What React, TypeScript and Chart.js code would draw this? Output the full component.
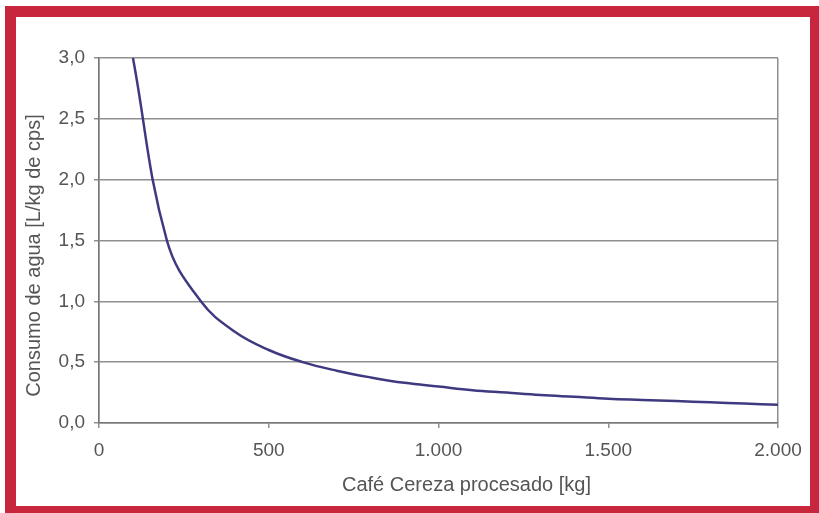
import React, { useEffect, useRef } from "react";
import { Chart, registerables } from "chart.js";

Chart.register(...registerables);

const processedKg = [100, 200, 300, 400, 500, 600, 700, 800, 900, 1000, 1100, 1200, 1300, 1400, 1500, 1600, 1700, 1800, 1900, 2000];
const waterUse = [3.0, 1.5, 1.0, 0.75, 0.6, 0.5, 0.43, 0.375, 0.33, 0.3, 0.27, 0.25, 0.23, 0.215, 0.2, 0.19, 0.18, 0.17, 0.16, 0.15];
const xTickValues = [0, 500, 1000, 1500, 2000];
const yTickValues = [0, 0.5, 1.0, 1.5, 2.0, 2.5, 3.0];
const xTitle = "Café Cereza procesado [kg]";
const yTitle = "Consumo de agua [L/kg de cps]";

const FONT = "'Liberation Sans', Arial, sans-serif";
const TEXT = "#555";
const GRID = "#8f8f8f";

function fmtThousands(v: number): string {
  const s = Math.round(v).toString();
  return s.replace(/\B(?=(\d{3})+(?!\d))/g, ".");
}

const axisTitles = {
  id: "axisTitles",
  afterDraw(chart: any) {
    const ctx = chart.ctx;
    const area = chart.chartArea;
    ctx.save();
    ctx.fillStyle = TEXT;
    ctx.font = `20px ${FONT}`;
    ctx.textAlign = "center";
    ctx.textBaseline = "alphabetic";
    ctx.fillText(xTitle, (area.left + area.right) / 2 + 28, area.bottom + 68);
    ctx.translate(40, (area.top + area.bottom) / 2 + 15);
    ctx.rotate(-Math.PI / 2);
    ctx.fillText(yTitle, 0, 0);
    ctx.restore();
  },
};

export default function App() {
  const ref = useRef<HTMLCanvasElement | null>(null);

  useEffect(() => {
    document.body.style.margin = "0";
    document.body.style.overflow = "hidden";
    const canvas = ref.current;
    if (!canvas) return;
    const chart = new Chart(canvas, {
      type: "line",
      data: {
        datasets: [
          {
            data: processedKg.map((x, i) => ({ x, y: waterUse[i] })),
            borderColor: "#3f3a80",
            borderWidth: 2.5,
            pointRadius: 0,
            tension: 0.4,
            fill: false,
          },
        ],
      },
      plugins: [axisTitles],
      options: {
        animation: false,
        responsive: false,
        maintainAspectRatio: false,
        layout: { padding: { left: 0, right: 41, top: 58, bottom: 0 } },
        plugins: { legend: { display: false }, tooltip: { enabled: false } },
        scales: {
          x: {
            type: "linear",
            min: 0,
            max: 2000,
            afterBuildTicks: (s: any) => {
              s.ticks = xTickValues.map((v) => ({ value: v }));
            },
            afterFit: (s: any) => {
              s.height = 90;
            },
            ticks: {
              color: TEXT,
              font: { family: FONT, size: 19 },
              padding: 11,
              maxRotation: 0,
              callback: (v: any) => fmtThousands(Number(v)),
            },
            grid: {
              color: (c: any) =>
                c.tick && (c.tick.value === 0 || c.tick.value === 2000) ? GRID : "rgba(0,0,0,0)",
              tickColor: GRID,
              tickLength: 5,
              lineWidth: 1.5,
            },
            border: { display: true, color: "#777", width: 1.5 },
            title: { display: false },
          },
          y: {
            type: "linear",
            min: 0,
            max: 3,
            afterBuildTicks: (s: any) => {
              s.ticks = yTickValues.map((v) => ({ value: v }));
            },
            afterFit: (s: any) => {
              s.width = 99;
            },
            ticks: {
              color: TEXT,
              font: { family: FONT, size: 19 },
              padding: 9,
              callback: (v: any) => Number(v).toFixed(1).replace(".", ","),
            },
            grid: {
              color: GRID,
              tickColor: GRID,
              tickLength: 5,
              lineWidth: 1.5,
            },
            border: { display: true, color: "#777", width: 1.5 },
            title: { display: false },
          },
        },
      },
    });
    return () => chart.destroy();
  }, []);

  return (
    <div style={{ position: "fixed", left: 0, top: 0, width: 819, height: 513, background: "#fff", overflow: "hidden" }}>
      <div
        style={{
          position: "absolute",
          left: 5,
          top: 6,
          width: 816,
          height: 511,
          boxSizing: "border-box",
          border: "11px solid #c8263c",
        }}
      />
      <canvas ref={ref} width={819} height={513} style={{ position: "absolute", left: 0, top: 0, width: 819, height: 513 }} />
    </div>
  );
}
